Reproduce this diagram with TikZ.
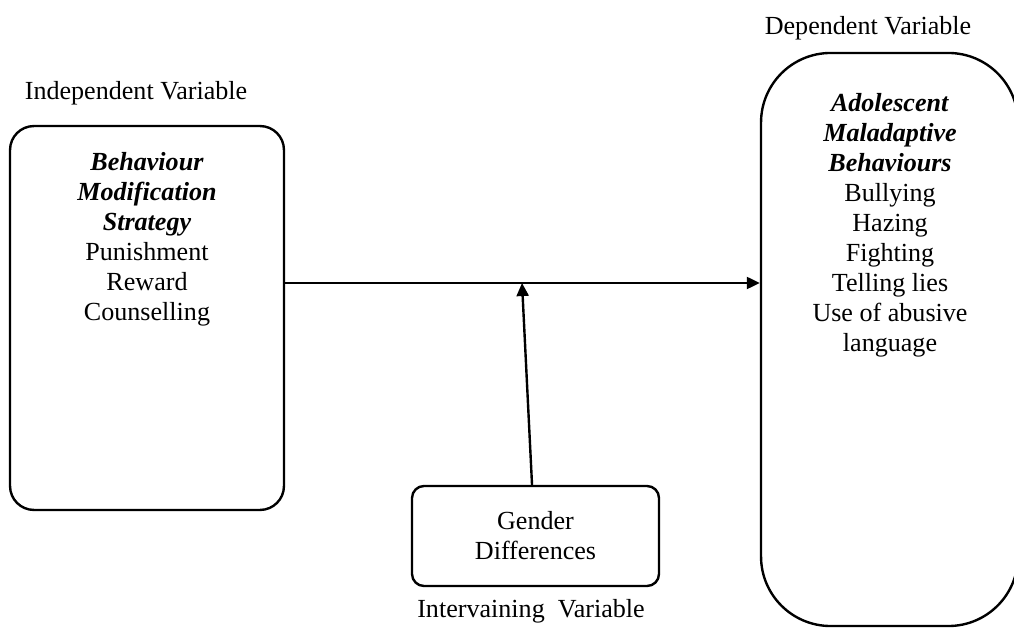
\documentclass[tikz,border=0pt]{standalone}
\usepackage{fontspec}
\setmainfont{Liberation Serif}
\usetikzlibrary{arrows.meta}

\begin{document}
\begin{tikzpicture}[
            x=0.46pt,y=-0.46pt,
            font=\fontsize{12}{13.8}\selectfont,
            varbox/.style={
            draw,
            line width=1.1pt,
            inner sep=0pt
            },
            vartext/.style={align=center, inner sep=0pt, anchor=north},
            varlabel/.style={anchor=base, inner sep=0pt},
            flow/.style={line width=1.1pt, -{Triangle[length=6pt,width=5.5pt]}}
            ]
            \useasboundingbox (0,0) rectangle (1014,628);
            % the three boxes
            \node[varbox, rounded corners=11pt, minimum width=126pt, minimum height=176.6pt] (ivbox) at (147,318) {};
            \node[varbox, rounded corners=32pt, minimum width=118.2pt, minimum height=263.6pt] (dvbox) at (889.5,339.5) {};
            \node[varbox, rounded corners=5.5pt, minimum width=113.6pt, minimum height=46pt, align=center] (gdbox) at (535.5,536) {Gender\\Differences};
            % box texts
            \node[vartext] (ivtext) at (147,152) {\textbf{\textit{Behaviour}}\\\textbf{\textit{Modification}}\\\textbf{\textit{Strategy}}\\Punishment\\Reward\\Counselling};
            \node[vartext] (dvtext) at (890,93) {\textbf{\textit{Adolescent}}\\\textbf{\textit{Maladaptive}}\\\textbf{\textit{Behaviours}}\\Bullying\\Hazing\\Fighting\\Telling lies\\Use of abusive\\language};
            % captions
            \node[varlabel] (ivlabel) at (136,100) {Independent Variable};
            \node[varlabel] (dvlabel) at (868,35) {Dependent Variable};
            \node[varlabel] (gdlabel) at (531,617) {Intervaining\ \ Variable};
            % arrows
            \coordinate (junction) at (522,283);
            \draw[flow] (ivbox.east |- junction) -- (dvbox.west |- junction);
            \draw[flow] ([xshift=-1.6pt]gdbox.north) -- (junction);
        \end{tikzpicture}
\end{document}
